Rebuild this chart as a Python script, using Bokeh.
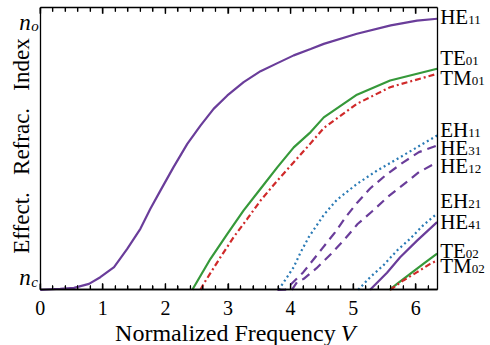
import numpy as np
from bokeh.plotting import figure
from bokeh.models import Range1d, LinearAxis, SingleIntervalTicker, FixedTicker, Label
from bokeh.embed import file_html
from bokeh.resources import INLINE

# ---- data (normalized frequency V, normalized effective index: 0 = n_c, 1 = n_o) ----
V_HE11 = [0.0, 0.32, 0.54, 0.78, 0.96, 1.18, 1.39, 1.60, 1.76, 1.92, 2.13, 2.35, 2.56, 2.77, 2.99, 3.25, 3.52, 3.79, 4.05, 4.32, 4.53, 5.06, 5.60, 6.02, 6.34]
N_HE11 = [0.0, 0.004, 0.007, 0.022, 0.047, 0.085, 0.153, 0.228, 0.303, 0.371, 0.459, 0.546, 0.614, 0.677, 0.727, 0.777, 0.818, 0.848, 0.877, 0.901, 0.920, 0.958, 0.989, 1.007, 1.014]

V_TE01 = [2.43, 2.72, 2.99, 3.25, 3.52, 3.79, 4.05, 4.32, 4.53, 5.06, 5.59, 6.34]
N_TE01 = [0.0, 0.116, 0.209, 0.297, 0.378, 0.459, 0.533, 0.590, 0.645, 0.730, 0.783, 0.827]

V_TM01 = [2.56, 2.61, 2.88, 3.09, 3.31, 3.52, 3.79, 4.05, 4.29, 4.53, 5.06, 5.59, 6.34]
N_TM01 = [0.0, 0.022, 0.122, 0.197, 0.266, 0.334, 0.409, 0.477, 0.540, 0.605, 0.696, 0.758, 0.808]

V_EH11 = [3.81, 4.05, 4.16, 4.29, 4.53, 4.74, 5.06, 5.38, 5.75, 5.96, 6.34]
N_EH11 = [0.0, 0.085, 0.140, 0.197, 0.280, 0.337, 0.396, 0.446, 0.496, 0.525, 0.577]

V_HE31 = [3.79, 3.92, 4.20, 4.31, 4.50, 4.71, 4.90, 5.06, 5.27, 5.53, 5.80, 6.05, 6.34]
N_HE31 = [0.0, 0.001, 0.065, 0.097, 0.153, 0.215, 0.278, 0.325, 0.379, 0.431, 0.477, 0.515, 0.540]

V_HE12 = [4.02, 4.10, 4.21, 4.41, 4.65, 4.86, 5.07, 5.30, 5.56, 5.75, 6.05, 6.34]
N_HE12 = [0.0, 0.028, 0.041, 0.080, 0.135, 0.188, 0.246, 0.293, 0.349, 0.384, 0.440, 0.477]

V_EH21 = [5.08, 5.27, 5.48, 5.70, 5.91, 6.12, 6.34]
N_EH21 = [0.0, 0.047, 0.091, 0.147, 0.191, 0.242, 0.285]

V_HE41 = [5.27, 5.54, 5.75, 6.02, 6.34]
N_HE41 = [0.0, 0.064, 0.122, 0.184, 0.253]

V_TE02 = [5.58, 5.70, 5.91, 6.12, 6.34]
N_TE02 = [0.0, 0.022, 0.060, 0.097, 0.135]

V_TM02 = [5.59, 5.80, 6.02, 6.23, 6.34]
N_TM02 = [0.0, 0.035, 0.066, 0.097, 0.110]

# mode labels at the right edge: main text, subscript, baseline value
MODE_NAMES = ["HE", "TE", "TM", "EH", "HE", "HE", "EH", "HE", "TE", "TM"]
MODE_SUBS = ["11", "01", "01", "11", "31", "12", "21", "41", "02", "02"]
MODE_LABEL_Y = [0.9925, 0.838, 0.7606, 0.5687, 0.5024, 0.435, 0.304, 0.2245, 0.117, 0.0584]

X_TICKS_INTERVAL = 1
X_MINOR_PER_MAJOR = 5

PURPLE = "#6a3d9a"
GREEN = "#36993a"
RED = "#d02a2a"
BLUE = "#2a7ab5"
SERIF = "Liberation Serif"

# plot box in data units; the frame spans the whole canvas
XMAX = 6.342
YTOP = 1.055
SX = 62.6    # px per unit V
SY = 267.3   # px per unit index
X0 = -39.7 / SX
X1 = X0 + 490 / SX
Y1 = 289.3 / SY
Y0 = Y1 - 345 / SY
LIFT = 8     # px correction for text baseline placement

p = figure(width=490, height=345, output_backend="svg", toolbar_location=None,
           x_range=Range1d(X0, X1), y_range=Range1d(Y0, Y1),
           min_border=0, min_border_left=0, min_border_right=0,
           min_border_top=0, min_border_bottom=0)
p.grid.visible = False
p.background_fill_color = "white"
p.border_fill_color = "white"
p.outline_line_color = None

LW = 1.3


def tick_axis(loc):
    """Axis line with ticks pointing into the plot box."""
    return LinearAxis(fixed_location=loc, bounds=(0, XMAX),
                      ticker=SingleIntervalTicker(interval=X_TICKS_INTERVAL,
                                                  num_minor_ticks=X_MINOR_PER_MAJOR),
                      major_tick_in=0, major_tick_out=6, minor_tick_in=0, minor_tick_out=4,
                      major_label_text_color=None, axis_line_width=LW,
                      major_tick_line_color="black", minor_tick_line_color="black",
                      major_tick_line_width=1.3, minor_tick_line_width=1.1)


# bottom axis: labels
xa = p.xaxis[0]
xa.fixed_location = 0
xa.bounds = (0, XMAX)
xa.ticker = SingleIntervalTicker(interval=X_TICKS_INTERVAL, num_minor_ticks=X_MINOR_PER_MAJOR)
xa.major_tick_in = 6
xa.major_tick_out = 0
xa.minor_tick_in = 4
xa.minor_tick_out = 0
xa.axis_line_width = LW
xa.major_label_text_font = SERIF
xa.major_label_text_font_size = "20px"
xa.major_label_text_color = "black"
xa.major_label_standoff = 11

p.add_layout(tick_axis(0), "above")
p.add_layout(tick_axis(YTOP), "below")

# tick marks along bottom and top edges (positions from the axis tick interval)
step = X_TICKS_INTERVAL / X_MINOR_PER_MAJOR
tick_pos = np.arange(0, XMAX + 1e-9, step)
is_major = np.isclose(np.mod(tick_pos + 1e-9, X_TICKS_INTERVAL), 0, atol=1e-6)
tick_len = np.where(is_major, 6.0, 4.0) / SY
p.segment(x0=tick_pos, y0=np.zeros_like(tick_pos), x1=tick_pos, y1=tick_len,
          line_color="black", line_width=1.2)
p.segment(x0=tick_pos, y0=np.full_like(tick_pos, YTOP), x1=tick_pos, y1=YTOP - tick_len,
          line_color="black", line_width=1.2)

# left axis: plain line
ya = p.yaxis[0]
ya.fixed_location = 0
ya.bounds = (0, YTOP)
ya.ticker = FixedTicker(ticks=[])
ya.major_tick_in = 0
ya.major_tick_out = 0
ya.minor_tick_in = 0
ya.minor_tick_out = 0
ya.axis_line_width = LW
ya.major_label_text_color = None

# right axis: plain line
right = LinearAxis(fixed_location=XMAX, bounds=(0, YTOP), ticker=FixedTicker(ticks=[]),
                   major_tick_in=0, major_tick_out=0, minor_tick_in=0, minor_tick_out=0,
                   major_label_text_color=None, axis_line_width=LW)
p.add_layout(right, "right")

DASHDOT = "6 3 2 3"
DOTTED = "2 3"
DASHED = "9 6"

# curves
p.line(V_HE11, N_HE11, line_color=PURPLE, line_width=2.2)
p.line(V_TE01, N_TE01, line_color=GREEN, line_width=2.2)
p.line(V_TM01, N_TM01, line_color=RED, line_width=2.2, line_dash=DASHDOT)
p.line(V_EH11, N_EH11, line_color=BLUE, line_width=2.2, line_dash=DOTTED)
p.line(V_HE31, N_HE31, line_color=PURPLE, line_width=2.2, line_dash=DASHED)
p.line(V_HE12, N_HE12, line_color=PURPLE, line_width=2.2, line_dash=DASHED)
p.line(V_EH21, N_EH21, line_color=BLUE, line_width=2.2, line_dash=DOTTED)
p.line(V_HE41, N_HE41, line_color=PURPLE, line_width=2.2)
p.line(V_TE02, N_TE02, line_color=GREEN, line_width=2.2)
p.line(V_TM02, N_TM02, line_color=RED, line_width=2.2, line_dash=DASHDOT)

# mode labels (main text + subscript)
W = {"H": 0.722, "E": 0.611, "T": 0.611, "M": 0.889}
MAIN_FS = 21
SUB_FS = 13
for name, sub, yb in zip(MODE_NAMES, MODE_SUBS, MODE_LABEL_Y):
    p.add_layout(Label(x=XMAX, y=yb, x_offset=3, y_offset=LIFT, text=name, text_font=SERIF,
                       text_font_size=f"{MAIN_FS}px", text_baseline="alphabetic",
                       text_align="left", text_color="black"))
    wmain = sum(W[c] for c in name) * MAIN_FS
    p.add_layout(Label(x=XMAX, y=yb, x_offset=3 + wmain, y_offset=LIFT - 3, text=sub,
                       text_font=SERIF, text_font_size=f"{SUB_FS}px",
                       text_baseline="alphabetic", text_align="left", text_color="black"))

# left tick labels n_c and n_o
NLIFT = 5
for sub, yb in (("c", 0.027), ("o", 0.982)):
    p.add_layout(Label(x=0, y=yb, x_offset=-9.5, y_offset=NLIFT, text="n", text_font=SERIF,
                       text_font_style="italic", text_font_size="23px",
                       text_baseline="alphabetic", text_align="right", text_color="black"))
    p.add_layout(Label(x=0, y=yb, x_offset=-9, y_offset=NLIFT - 4, text=sub, text_font=SERIF,
                       text_font_style="italic", text_font_size="15px",
                       text_baseline="alphabetic", text_align="left", text_color="black"))

# axis titles
XLIFT = 8
p.add_layout(Label(x=4.72, y=-0.19, y_offset=XLIFT, text="Normalized Frequency",
                   text_font=SERIF, text_font_size="24px", text_baseline="alphabetic",
                   text_align="right", text_color="black"))
p.add_layout(Label(x=4.72, y=-0.19, x_offset=5, y_offset=XLIFT, text="V", text_font=SERIF,
                   text_font_style="italic", text_font_size="24px",
                   text_baseline="alphabetic", text_align="left", text_color="black"))
p.add_layout(Label(x=-0.2955, y=0.538, angle=np.pi / 2,
                   text="Effect.\u00a0\u00a0 Refrac.\u00a0\u00a0 Index", text_font=SERIF,
                   text_font_size="23px", text_baseline="middle", text_align="center",
                   text_color="black"))

open("out.html", "w").write(file_html(p, INLINE))
